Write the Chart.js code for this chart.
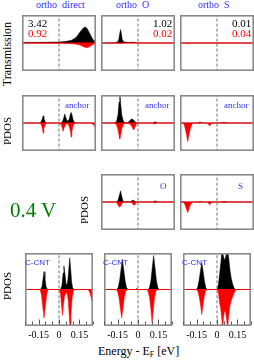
<!DOCTYPE html>
<html><head><meta charset="utf-8">
<script src="https://cdn.jsdelivr.net/npm/chart.js@4/dist/chart.umd.min.js"></script>
<style>
html,body{margin:0;padding:0;background:#fff;}
#wrap{position:relative;width:254px;height:360px;overflow:hidden;font-family:"Liberation Serif","Times New Roman",serif;}
canvas{position:absolute;}
.t{position:absolute;white-space:pre;line-height:1;}
.blue{color:#2f2fff;}
.rot{transform:translate(-50%,-50%) rotate(-90deg);}
</style></head><body>
<div id="wrap"></div>
<script>
// ---- data: [energy (eV), value] pairs; spin up (black, >0), spin down (red, <0) ----
const xTickLabels = ['-0.15', '0', '0.15'];
const columnTitles = ['ortho  direct', 'ortho  O', 'ortho  S'];
const transUp = ['3.42', '1.02', '0.01'];
const transDown = ['0.92', '0.02', '0.04'];

const trans_direct_up = [[-0.25,0.02],[-0.1,0.025],[0,0.035],[0.05,0.06],[0.08,0.09],[0.1,0.14],[0.12,0.22],[0.135,0.34],[0.15,0.45],[0.165,0.54],[0.178,0.57],[0.19,0.52],[0.2,0.42],[0.213,0.29],[0.225,0.16],[0.235,0.09],[0.25,0.05]];
const trans_direct_dn = [[-0.25,-0.005],[0.05,-0.01],[0.1,-0.03],[0.14,-0.07],[0.165,-0.13],[0.185,-0.17],[0.2,-0.15],[0.215,-0.1],[0.23,-0.05],[0.25,-0.02]];
const trans_O_up = [[-0.25,0],[-0.16,0.005],[-0.14,0.03],[-0.13,0.12],[-0.123,0.35],[-0.118,0.48],[-0.113,0.35],[-0.106,0.12],[-0.095,0.04],[-0.06,0.02],[-0.03,0.03],[-0.01,0.01],[0,0],[0.25,0]];
const trans_O_dn = [[-0.25,0],[-0.13,-0.005],[-0.118,-0.02],[-0.1,-0.005],[-0.09,0],[0.25,0]];
const trans_S_up = [[-0.25,0],[0.25,0]];
const trans_S_dn = [[-0.25,0],[-0.21,0],[-0.2,-0.02],[-0.19,-0.02],[-0.18,0],[0.25,0]];

const anchor_direct_up = [[-0.25,0],[-0.13,0],[-0.12,0.05],[-0.112,0.16],[-0.107,0.26],[-0.102,0.16],[-0.094,0.05],[-0.085,0],[0.015,0],[0.025,0.06],[0.033,0.2],[0.039,0.32],[0.046,0.2],[0.055,0.08],[0.062,0.07],[0.07,0.15],[0.076,0.3],[0.082,0.38],[0.088,0.28],[0.096,0.1],[0.105,0.02],[0.115,0],[0.25,0]];
const anchor_direct_dn = [[-0.25,0],[-0.13,0],[-0.12,-0.06],[-0.112,-0.2],[-0.107,-0.36],[-0.102,-0.2],[-0.093,-0.05],[-0.085,0],[0.005,0],[0.015,-0.06],[0.022,-0.18],[0.028,-0.3],[0.034,-0.18],[0.042,-0.08],[0.05,-0.03],[0.06,-0.04],[0.07,-0.14],[0.077,-0.3],[0.082,-0.5],[0.087,-0.3],[0.095,-0.1],[0.105,-0.02],[0.115,0],[0.22,0],[0.235,-0.08],[0.25,-0.2]];
const anchor_O_up = [[-0.25,0],[-0.16,0],[-0.145,0.05],[-0.135,0.3],[-0.128,0.75],[-0.123,1.15],[-0.118,0.75],[-0.11,0.3],[-0.1,0.08],[-0.09,0.02],[-0.07,0.01],[-0.055,0.08],[-0.045,0.14],[-0.035,0.13],[-0.025,0.07],[-0.012,0.01],[0,0],[0.1,0],[0.112,0.03],[0.118,0.05],[0.125,0.02],[0.135,0],[0.25,0]];
const anchor_O_dn = [[-0.25,0],[-0.16,0],[-0.145,-0.06],[-0.135,-0.25],[-0.128,-0.45],[-0.123,-0.57],[-0.117,-0.42],[-0.108,-0.18],[-0.098,-0.05],[-0.088,-0.02],[-0.06,-0.02],[-0.045,-0.1],[-0.035,-0.2],[-0.028,-0.25],[-0.02,-0.15],[-0.012,-0.05],[-0.003,0],[0.095,0],[0.105,-0.03],[0.112,-0.04],[0.12,-0.02],[0.13,0],[0.25,0]];
const anchor_S_up = [[-0.25,0],[-0.13,0],[-0.12,0.03],[-0.11,0.03],[-0.1,0],[0.03,0],[0.04,0.02],[0.055,0.02],[0.065,0],[0.25,0]];
const anchor_S_dn = [[-0.25,0],[-0.225,0],[-0.215,-0.2],[-0.205,-0.45],[-0.198,-0.67],[-0.19,-0.45],[-0.18,-0.2],[-0.165,0],[-0.125,0],[-0.118,-0.02],[-0.11,0],[-0.065,0],[-0.057,-0.05],[-0.05,-0.11],[-0.043,-0.06],[-0.035,0],[0.035,0],[0.045,-0.02],[0.055,-0.01],[0.065,0],[0.25,0]];

const atom_O_up = [[-0.25,0],[-0.145,0],[-0.135,0.06],[-0.125,0.25],[-0.118,0.4],[-0.112,0.25],[-0.103,0.06],[-0.095,0.01],[-0.05,0.01],[-0.04,0.05],[-0.033,0.07],[-0.025,0.04],[-0.015,0.01],[0,0],[0.1,0],[0.11,0.02],[0.118,0.04],[0.126,0.02],[0.135,0],[0.25,0]];
const atom_O_dn = [[-0.25,0],[-0.15,0],[-0.14,-0.06],[-0.13,-0.15],[-0.124,-0.19],[-0.117,-0.14],[-0.108,-0.05],[-0.098,-0.01],[-0.045,-0.01],[-0.037,-0.06],[-0.03,-0.11],[-0.024,-0.12],[-0.017,-0.06],[-0.008,-0.01],[0,0],[0.1,0],[0.11,-0.02],[0.118,-0.03],[0.126,-0.02],[0.135,0],[0.25,0]];
const atom_S_up = [[-0.25,0],[-0.125,0],[-0.118,0.02],[-0.108,0.02],[-0.1,0],[-0.06,0],[-0.05,0.015],[-0.04,0],[0.03,0],[0.04,0.02],[0.06,0.02],[0.07,0],[0.25,0]];
const atom_S_dn = [[-0.25,0],[-0.225,0],[-0.215,-0.12],[-0.205,-0.28],[-0.198,-0.38],[-0.19,-0.26],[-0.18,-0.1],[-0.165,0],[-0.125,0],[-0.118,-0.015],[-0.108,0],[-0.065,0],[-0.057,-0.04],[-0.05,-0.1],[-0.042,-0.05],[-0.033,0],[0.03,0],[0.04,-0.015],[0.06,-0.015],[0.07,0],[0.25,0]];

const ccnt_direct_up = [[-0.25,0],[-0.135,0],[-0.125,0.08],[-0.117,0.3],[-0.11,0.49],[-0.103,0.3],[-0.095,0.08],[-0.085,0],[0.012,0],[0.022,0.12],[0.03,0.45],[0.036,0.65],[0.043,0.45],[0.052,0.15],[0.058,0.1],[0.065,0.25],[0.073,0.6],[0.079,0.86],[0.085,0.6],[0.093,0.2],[0.1,0.05],[0.11,0],[0.25,0]];
const ccnt_direct_dn = [[-0.25,0],[-0.14,0],[-0.13,-0.12],[-0.12,-0.45],[-0.11,-0.78],[-0.1,-0.45],[-0.09,-0.12],[-0.08,0],[0.003,0],[0.012,-0.15],[0.019,-0.45],[0.025,-0.71],[0.032,-0.45],[0.04,-0.2],[0.05,-0.1],[0.06,-0.1],[0.068,-0.3],[0.075,-0.7],[0.081,-1.05],[0.088,-0.7],[0.096,-0.25],[0.105,-0.05],[0.115,0],[0.215,0],[0.228,-0.1],[0.245,-0.35],[0.25,-0.4]];
const ccnt_O_up = [[-0.25,0],[-0.155,0],[-0.145,0.06],[-0.135,0.25],[-0.125,0.55],[-0.115,0.83],[-0.105,0.55],[-0.095,0.25],[-0.085,0.06],[-0.075,0],[-0.02,0],[-0.01,0.03],[0,0],[0.075,0],[0.085,0.06],[0.095,0.25],[0.105,0.6],[0.115,0.93],[0.125,0.6],[0.135,0.25],[0.145,0.06],[0.155,0],[0.25,0]];
const ccnt_O_dn = [[-0.25,0],[-0.16,0],[-0.15,-0.06],[-0.14,-0.22],[-0.13,-0.5],[-0.12,-0.78],[-0.11,-0.5],[-0.1,-0.2],[-0.09,-0.05],[-0.08,0],[0.065,0],[0.075,-0.06],[0.085,-0.22],[0.095,-0.55],[0.104,-0.92],[0.113,-0.55],[0.122,-0.2],[0.132,-0.05],[0.142,0],[0.25,0]];
const ccnt_S_up = [[-0.25,0],[-0.152,0],[-0.142,0.06],[-0.132,0.25],[-0.122,0.5],[-0.112,0.74],[-0.102,0.5],[-0.092,0.22],[-0.082,0.05],[-0.072,0],[0,0],[0.01,0.12],[0.02,0.45],[0.03,0.8],[0.037,1.1],[0.045,0.95],[0.055,0.8],[0.065,0.9],[0.075,1.15],[0.085,0.9],[0.095,0.55],[0.105,0.3],[0.115,0.15],[0.125,0.05],[0.135,0],[0.25,0]];
const ccnt_S_dn = [[-0.25,0],[-0.15,0],[-0.14,-0.06],[-0.13,-0.22],[-0.12,-0.45],[-0.112,-0.69],[-0.104,-0.45],[-0.094,-0.2],[-0.084,-0.05],[-0.074,0],[0.005,0],[0.012,-0.15],[0.02,-0.4],[0.028,-0.55],[0.035,-0.8],[0.041,-1.1],[0.048,-0.75],[0.055,-0.6],[0.062,-0.6],[0.07,-0.8],[0.078,-1.1],[0.085,-0.75],[0.095,-0.45],[0.105,-0.3],[0.115,-0.2],[0.128,-0.08],[0.14,0],[0.25,0]];

// ---- layout ----
const COLS = [22, 101, 180];
const ROWS = [15, 95, 174, 253];
const PW = 74, PH = 73, AXIS_H = 17;
const wrap = document.getElementById('wrap');

const frame = {
  id: 'frame',
  afterDraw(chart) {
    const a = chart.chartArea, c = chart.ctx;
    c.save();
    c.strokeStyle = '#8a8a8a'; c.lineWidth = 1.6;
    c.strokeRect(a.left + 0.8, a.top + 0.8, a.right - a.left - 1.6, a.bottom - a.top - 1.6);
    const xs = chart.scales.x;
    if (chart.options.plugins.frame && chart.options.plugins.frame.ticks) {
      c.strokeStyle = '#555'; c.lineWidth = 1;
      xs.ticks.forEach(t => {
        const px = Math.round(xs.getPixelForValue(t.value)) + 0.5;
        const major = xTickLabels.includes(fmt(t.value));
        const len = major ? 5 : 3;
        c.beginPath(); c.moveTo(px, a.bottom - 1.5); c.lineTo(px, a.bottom - 1.5 - len); c.stroke();
      });
    }
    c.restore();
  }
};
function fmt(v) { const r = Math.round(v * 100) / 100; return r === 0 ? '0' : String(r); }
const pts = arr => arr.map(([x, y]) => ({x, y}));

function panel(col, row, up, dn, withAxis) {
  const cv = document.createElement('canvas');
  const h = PH + (withAxis ? AXIS_H : 0);
  cv.width = PW; cv.height = h;
  cv.style.left = COLS[col] + 'px'; cv.style.top = ROWS[row] + 'px';
  cv.style.width = PW + 'px'; cv.style.height = h + 'px';
  wrap.appendChild(cv);
  new Chart(cv, {
    type: 'line',
    data: { datasets: [
      { data: [{x:-0.25,y:0},{x:0.25,y:0}], borderColor: '#ff0000', borderWidth: 1, pointRadius: 0, fill: false, order: 1 },
      { data: [{x:0,y:-1.2},{x:0,y:1.2}], borderColor: '#707070', borderWidth: 1, borderDash: [3,2], pointRadius: 0, fill: false, order: 2 },
      { data: pts(up), borderColor: '#000', borderWidth: 0.5, backgroundColor: '#000', pointRadius: 0, fill: 'origin', order: 3, tension: 0 },
      { data: pts(dn), borderColor: '#ff0000', borderWidth: 0.5, backgroundColor: '#ff0000', pointRadius: 0, fill: 'origin', order: 3, tension: 0 }
    ]},
    options: {
      responsive: false, animation: false, devicePixelRatio: 1,
      layout: { padding: 0 },
      plugins: { legend: { display: false }, tooltip: { enabled: false }, frame: { ticks: withAxis } },
      scales: {
        x: { type: 'linear', min: -0.25, max: 0.25, display: withAxis,
             afterFit: s => { s.height = AXIS_H; },
             grid: { display: false, drawTicks: false }, border: { display: false },
             ticks: { stepSize: 0.05, padding: 3, autoSkip: false, maxRotation: 0, color: '#000',
                      font: { family: 'Liberation Serif', size: 10 },
                      callback: v => xTickLabels.includes(fmt(v)) ? fmt(v) : '' } },
        y: { min: -1, max: 1, display: false }
      }
    },
    plugins: [frame]
  });
}

panel(0,0,trans_direct_up,trans_direct_dn,false);
panel(1,0,trans_O_up,trans_O_dn,false);
panel(2,0,trans_S_up,trans_S_dn,false);
panel(0,1,anchor_direct_up,anchor_direct_dn,false);
panel(1,1,anchor_O_up,anchor_O_dn,false);
panel(2,1,anchor_S_up,anchor_S_dn,false);
panel(1,2,atom_O_up,atom_O_dn,false);
panel(2,2,atom_S_up,atom_S_dn,false);
panel(0,3,ccnt_direct_up,ccnt_direct_dn,true);
panel(1,3,ccnt_O_up,ccnt_O_dn,true);
panel(2,3,ccnt_S_up,ccnt_S_dn,true);

// ---- text ----
function txt(s, css, cls) {
  const d = document.createElement('div');
  d.className = 't ' + (cls || ''); d.textContent = s;
  Object.assign(d.style, css); wrap.appendChild(d); return d;
}
const titleX = [36, 116, 198];
columnTitles.forEach((s, i) => txt(s, {left: titleX[i] + 'px', top: '0px', fontSize: '10px'}, 'blue'));
const numX = [28, 153, 232];
transUp.forEach((s, i) => txt(s, {left: numX[i] + 'px', top: '18px', fontSize: '11px', color: '#000'}));
transDown.forEach((s, i) => txt(s, {left: numX[i] + 'px', top: '28px', fontSize: '11px', color: '#ff0000'}));
[65, 145, 224].forEach(x => txt('anchor', {left: x + 'px', top: '101px', fontSize: '9px'}, 'blue'));
txt('O', {left: '160px', top: '182px', fontSize: '9px'}, 'blue');
txt('S', {left: '238px', top: '182px', fontSize: '9px'}, 'blue');
[25, 103, 182].forEach(x => txt('C-CNT', {left: x + 'px', top: '259px', fontSize: '8px', fontFamily: 'Liberation Sans, sans-serif'}, 'blue'));
txt('Transmission', {left: '7px', top: '54px', fontSize: '12px'}, 'rot');
txt('PDOS', {left: '7px', top: '131px', fontSize: '11px'}, 'rot');
txt('PDOS', {left: '84px', top: '210px', fontSize: '11px'}, 'rot');
txt('PDOS', {left: '7px', top: '286px', fontSize: '11px'}, 'rot');
txt('0.4 V', {left: '10px', top: '200px', fontSize: '21px', color: '#008000'});
const xl = txt('', {left: '98px', top: '345px', fontSize: '12px'});
xl.innerHTML = 'Energy - E<sub style="font-size:8px;vertical-align:-2px">F</sub> [eV]';
</script>
</body></html>
